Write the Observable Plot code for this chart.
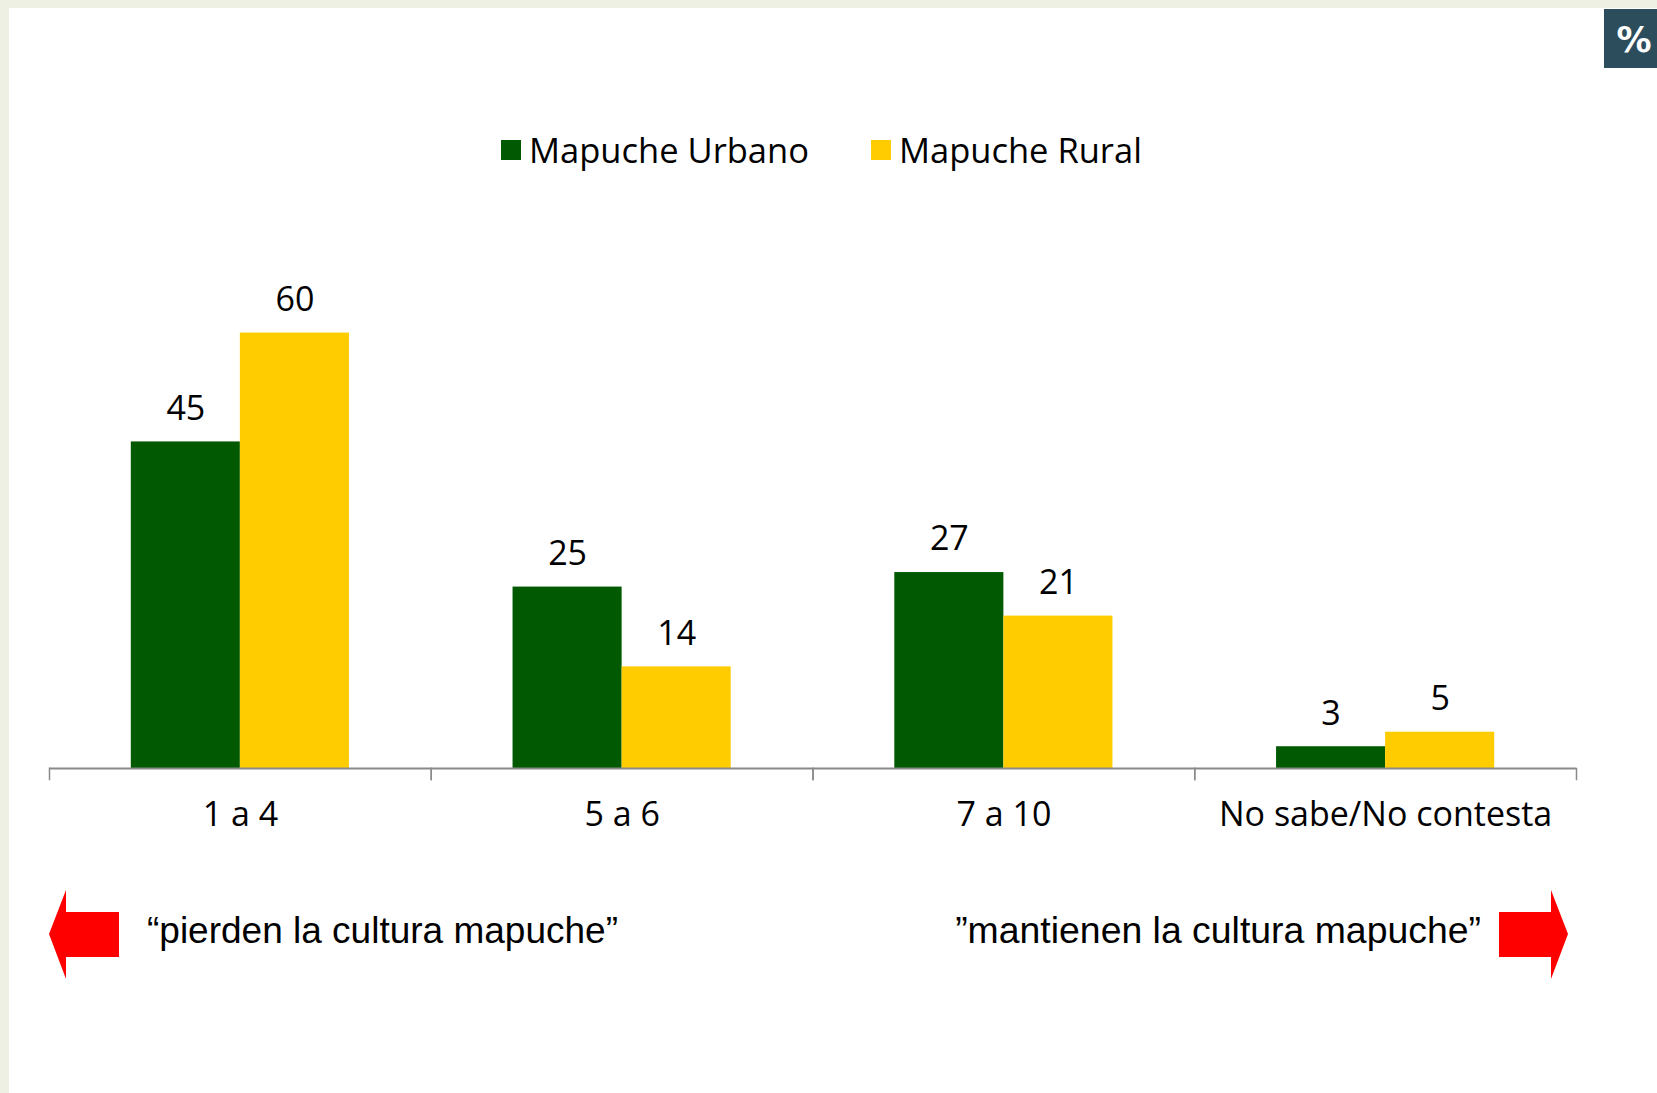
<!DOCTYPE html>
<html>
<head>
<meta charset="utf-8">
<script src="https://cdn.jsdelivr.net/npm/d3@7"></script>
<script src="https://cdn.jsdelivr.net/npm/@observablehq/plot@0.6"></script>
<style>
  html, body { margin: 0; padding: 0; }
  body { width: 1657px; height: 1093px; background: #eef0e3; overflow: hidden; }
  #page { position: relative; width: 1657px; height: 1093px; }
  #panel { position: absolute; left: 9px; top: 8px; right: 0; bottom: 0; background: #ffffff; }
  #legend { position: absolute; top: 126px; left: 501px; display: flex; align-items: center;
            font-family: "Open Sans", sans-serif; font-size: 34.5px; color: #000; white-space: nowrap; }
  #legend .item { display: flex; align-items: center; }
  #legend .sw { width: 20px; height: 20px; margin-right: 8px; }
  #chart { position: absolute; left: 9px; top: 200px; }
  #overlay { position: absolute; left: 0; top: 0; pointer-events: none; }
</style>
</head>
<body>
<div id="page">
  <div id="panel"></div>
  <div id="legend"></div>
  <div id="chart"></div>
  <svg id="overlay" width="1657" height="1093"></svg>
</div>
<script>
// ---- data ----
const categories = ["1 a 4", "5 a 6", "7 a 10", "No sabe/No contesta"];
const series = ["Mapuche Urbano", "Mapuche Rural"];
const urbano = [45, 25, 27, 3];
const rural = [60, 14, 21, 5];
const colors = ["#015a01", "#ffcc00"];
const leftNote = "\u201Cpierden la cultura mapuche\u201D";
const rightNote = "\u201Dmantienen la cultura mapuche\u201D";

const table = [];
categories.forEach((c, i) => {
  table.push({cat: c, series: series[0], value: urbano[i]});
  table.push({cat: c, series: series[1], value: rural[i]});
});

// ---- legend ----
const legend = document.getElementById("legend");
series.forEach((s, i) => {
  const item = document.createElement("div");
  item.className = "item";
  item.style.marginRight = i === 0 ? "62px" : "0";
  const sw = document.createElement("div");
  sw.className = "sw";
  sw.style.background = colors[i];
  const t = document.createElement("span");
  t.textContent = s;
  item.appendChild(sw);
  item.appendChild(t);
  legend.appendChild(item);
});

// ---- chart ----
const H = 650, MT = 60, MB = 82;
const chart = Plot.plot({
  width: 1648,
  height: H,
  marginLeft: 40,
  marginRight: 81,
  marginTop: MT,
  marginBottom: MB,
  style: {fontFamily: "Open Sans, sans-serif", fontSize: "34px", color: "#000", background: "transparent", overflow: "visible"},
  fx: {domain: categories, padding: 0, round: false, label: null},
  x: {domain: series, paddingInner: 0, paddingOuter: 0.75, round: false, axis: null},
  y: {domain: [0, 70], axis: null},
  color: {domain: series, range: colors},
  marks: [
    Plot.barY(table, {fx: "cat", x: "series", y: "value", fill: "series"}),
    Plot.ruleY([0], {stroke: "#8a8a8a", strokeWidth: 2}),
    Plot.frame({anchor: "left", stroke: "#8a8a8a", strokeWidth: 1.5, insetTop: H - MT - MB, insetBottom: -11}),
    Plot.frame({anchor: "right", stroke: "#8a8a8a", strokeWidth: 1.5, insetTop: H - MT - MB, insetBottom: -11}),
    Plot.text(table, {fx: "cat", x: "series", y: "value", text: d => String(d.value), dy: -33, fill: "#000", fontSize: 34}),
    Plot.axisFx({anchor: "bottom", tickSize: 0, tickPadding: 33, fontSize: 34, label: null, fill: "#000"})
  ]
});
document.getElementById("chart").appendChild(chart);

// ---- decorations: arrows, notes, % badge ----
const ov = d3.select("#overlay");
ov.append("polygon")
  .attr("points", "49,934 66,890 66,912 119,912 119,957 66,957 66,979")
  .attr("fill", "#ff0000");
ov.append("polygon")
  .attr("points", "1499,912 1551,912 1551,890 1568,934 1551,979 1551,957 1499,957")
  .attr("fill", "#ff0000");
ov.append("text").attr("x", 147).attr("y", 943)
  .attr("font-family", "Liberation Sans, Arial, sans-serif").attr("font-size", 37).attr("fill", "#000")
  .text(leftNote);
ov.append("text").attr("x", 1481).attr("y", 943).attr("text-anchor", "end")
  .attr("font-family", "Liberation Sans, Arial, sans-serif").attr("font-size", 37.4).attr("fill", "#000")
  .text(rightNote);
ov.append("rect").attr("x", 1604).attr("y", 9).attr("width", 53).attr("height", 59).attr("fill", "#2c4e5c");
ov.append("text").attr("x", 1634).attr("y", 52).attr("text-anchor", "middle")
  .attr("font-family", "DejaVu Sans, sans-serif").attr("font-weight", "bold").attr("font-size", 35).attr("fill", "#fff")
  .text("%");
</script>
</body>
</html>
